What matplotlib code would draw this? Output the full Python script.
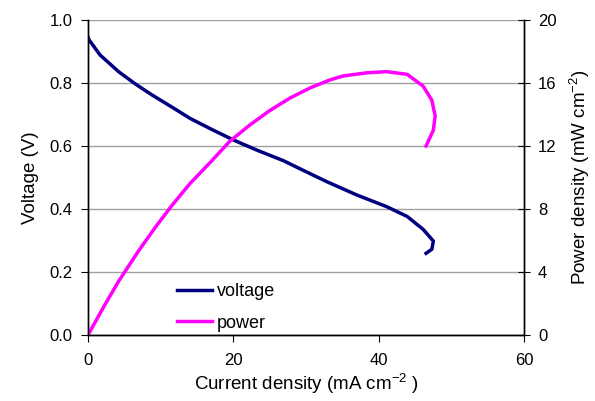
import matplotlib
matplotlib.use("Agg")
import matplotlib.pyplot as plt

plt.rcParams["font.family"] = ["Liberation Sans", "DejaVu Sans"]
plt.rcParams["mathtext.default"] = "regular"

# current density (mA cm-2) vs voltage (V)
i_volt = [0, 0.14, 1.65, 4.2, 6.5, 8.8, 11.5, 14.0, 16.8, 20.0, 23.2, 26.9,
          29.2, 32.8, 37.0, 41.1, 43.9, 46.1, 47.5, 47.3, 46.5]
voltage = [0.945, 0.937, 0.889, 0.836, 0.797, 0.762, 0.724, 0.688, 0.655,
           0.619, 0.587, 0.553, 0.527, 0.487, 0.444, 0.407, 0.376, 0.335,
           0.298, 0.272, 0.259]

# current density (mA cm-2) vs power density (mW cm-2)
i_pow = [0, 2.3, 4.2, 6.9, 9.2, 11.5, 14.0, 16.8, 19.5, 22.3, 25.0, 27.8,
         30.6, 33.3, 35.1, 38.4, 41.1, 43.9, 46.1, 47.3, 47.75, 47.5, 46.5]
power = [0, 1.9, 3.4, 5.3, 6.8, 8.2, 9.6, 10.95, 12.3, 13.35, 14.25, 15.05,
         15.7, 16.2, 16.45, 16.65, 16.72, 16.55, 15.8, 14.9, 13.9, 13.0, 12.0]

fig = plt.figure(figsize=(5.95, 4.01), dpi=100)
ax = fig.add_axes([0.148, 0.165, 0.733, 0.785])
ax2 = ax.twinx()

ax.set_xlim(0, 60)
ax.set_ylim(0, 1.0)
ax2.set_ylim(0, 20)
ax.set_xticks([0, 20, 40, 60])
ax.set_yticks([0, 0.2, 0.4, 0.6, 0.8, 1.0])
ax.set_yticklabels([f"{v:.1f}" for v in ax.get_yticks()])
ax2.set_yticks([0, 4, 8, 12, 16, 20])

ax.grid(axis="y", color="#a0a0a0", lw=1)
ax.set_axisbelow(True)
for a in (ax, ax2):
    a.spines["top"].set_visible(False)
    for s in ("left", "right", "bottom"):
        a.spines[s].set_color("black")
        a.spines[s].set_linewidth(1)

ax.tick_params(axis="both", direction="out", length=5, labelsize=12, pad=6)
ax2.tick_params(axis="y", direction="inout", length=8, labelsize=12, pad=6)
ax.tick_params(axis="x", pad=8)

l1, = ax.plot(i_volt, voltage, color="#000080", lw=2.5, label="voltage")
l2, = ax2.plot(i_pow, power, color="#ff00ff", lw=2.5, label="power")

ax.set_xlabel("Current density (mA cm$^{-2}$ )", fontsize=13.5, labelpad=3)
ax.set_ylabel("Voltage (V)", fontsize=13.5, labelpad=8)
ax2.set_ylabel("Power density (mW cm$^{-2}$)", fontsize=13.5, labelpad=8)

ax2.legend([l1, l2], ["voltage", "power"], loc="lower left",
           bbox_to_anchor=(0.205, 0.01), frameon=False, fontsize=13,
           handlelength=1.9, handletextpad=0.3, labelspacing=0.8,
           borderpad=0, borderaxespad=0)

fig.savefig("out.png", dpi=100)
